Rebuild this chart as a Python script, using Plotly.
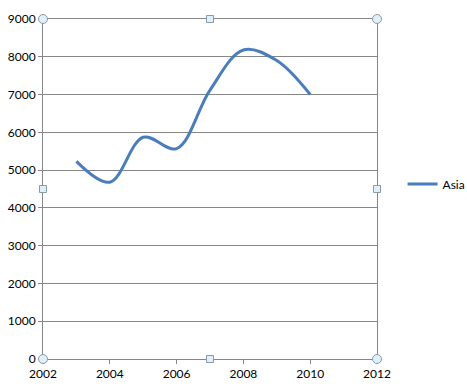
import plotly.graph_objects as go

years = [2003, 2004, 2005, 2006, 2007, 2008, 2009, 2010]
asia = [5230, 4680, 5870, 5570, 7120, 8180, 7900, 7000]
x_ticks = [2002, 2004, 2006, 2008, 2010, 2012]
y_ticks = [0, 1000, 2000, 3000, 4000, 5000, 6000, 7000, 8000, 9000]

fig = go.Figure()
fig.add_trace(go.Scatter(
    x=years, y=asia, name="Asia", mode="lines",
    line=dict(color="#4a7ebb", width=3, shape="spline", smoothing=1.0),
))

axis_common = dict(showline=True, linecolor="#868686", linewidth=1, mirror=True,
                   ticks="outside", ticklen=4, tickcolor="#868686", automargin=False,
                   tickfont=dict(family="Lato, Open Sans, sans-serif", size=12, color="#000"),
                   zeroline=False)
fig.update_xaxes(range=[2002, 2012], tickvals=x_ticks, showgrid=False, **axis_common)
fig.update_yaxes(range=[0, 9000], tickvals=y_ticks, showgrid=True, gridcolor="#868686",
                 gridwidth=1, **axis_common)

# selection handles (decoration)
handle_line = dict(color="#8a9aa8", width=1)
handle_fill = "#dff0fa"
r = 4.5
for (px, py) in [(0, 0), (1, 0), (0, 1), (1, 1)]:
    fig.add_shape(type="circle", xref="x domain", yref="y domain",
                  xsizemode="pixel", ysizemode="pixel", xanchor=px, yanchor=py,
                  x0=-r, x1=r, y0=-r, y1=r, line=handle_line, fillcolor=handle_fill)
s = 3.5
for (px, py) in [(0.5, 0), (0.5, 1), (0, 0.5), (1, 0.5)]:
    fig.add_shape(type="rect", xref="x domain", yref="y domain",
                  xsizemode="pixel", ysizemode="pixel", xanchor=px, yanchor=py,
                  x0=-s, x1=s, y0=-s, y1=s, line=handle_line, fillcolor=handle_fill)

fig.update_layout(
    width=467, height=389,
    margin=dict(l=43, r=90, t=19, b=30),
    paper_bgcolor="white", plot_bgcolor="white",
    showlegend=True,
    legend=dict(xref="container", yref="container", x=0.862, y=0.527,
                xanchor="left", yanchor="middle", borderwidth=0,
                font=dict(family="Lato, Open Sans, sans-serif", size=12, color="#000"),
                itemwidth=30),
)
fig.write_html("out.html", config={"displayModeBar": False},
               post_script="document.body.style.margin='0';document.body.style.overflow='hidden';")
